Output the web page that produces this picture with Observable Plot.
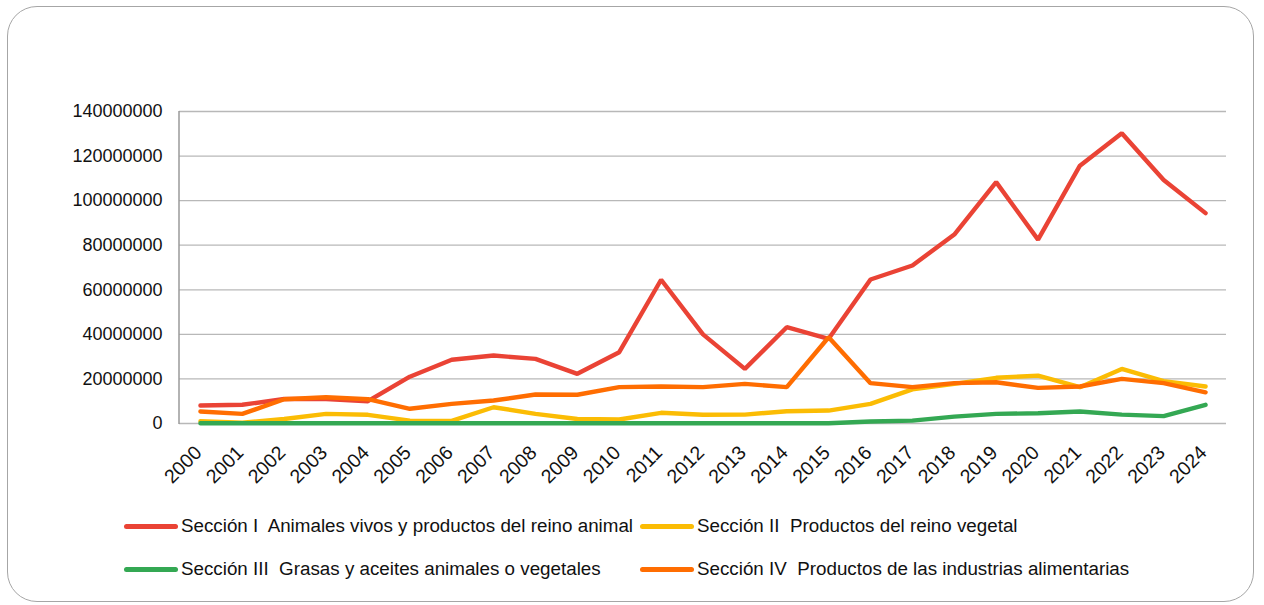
<!DOCTYPE html>
<html>
<head>
<meta charset="utf-8">
<script src="https://cdn.jsdelivr.net/npm/d3@7"></script>
<script src="https://cdn.jsdelivr.net/npm/@observablehq/plot@0.6"></script>
<style>
  html, body { margin: 0; padding: 0; background: #fff; }
  body { width: 1264px; height: 605px; overflow: hidden; position: relative; font-family: "Liberation Sans", Arial, sans-serif; }
  #box { position: absolute; left: 7px; top: 6px; width: 1247px; height: 596px; border: 1.5px solid #a6a6a6; border-radius: 30px; box-sizing: border-box; }
  #chart { position: absolute; left: 0; top: 0; }
  .leg { position: absolute; display: flex; align-items: center; font-size: 18.8px; color: #111; white-space: pre; }
  .sw { width: 54px; height: 5px; border-radius: 3px; margin-right: 3px; }
</style>
</head>
<body>
<div id="box"></div>
<div id="chart"></div>
<div id="legend"></div>
<script>
const years = ["2000","2001","2002","2003","2004","2005","2006","2007","2008","2009","2010","2011","2012","2013","2014","2015","2016","2017","2018","2019","2020","2021","2022","2023","2024"];
const seriesNames = [
  "Sección I  Animales vivos y productos del reino animal",
  "Sección II  Productos del reino vegetal",
  "Sección III  Grasas y aceites animales o vegetales",
  "Sección IV  Productos de las industrias alimentarias"
];
const seriesColors = ["#EA4335", "#FBBC04", "#34A853", "#FF6D01"];
const seccionI  = [8.1e6, 8.4e6, 11e6, 11e6, 10e6, 21e6, 28.6e6, 30.5e6, 29e6, 22.3e6, 32e6, 64.5e6, 40e6, 24.5e6, 43.2e6, 38e6, 64.6e6, 70.9e6, 84.8e6, 108.3e6, 82.5e6, 115.7e6, 130.2e6, 109.3e6, 94.4e6];
const seccionII = [1.0e6, 0.4e6, 2.0e6, 4.3e6, 3.9e6, 1.3e6, 1.2e6, 7.3e6, 4.3e6, 2.0e6, 1.8e6, 4.8e6, 3.9e6, 4.0e6, 5.5e6, 5.8e6, 8.8e6, 15.3e6, 17.8e6, 20.5e6, 21.5e6, 16.3e6, 24.5e6, 19.0e6, 16.6e6];
const seccionIII = [0.1e6, 0.1e6, 0.1e6, 0.1e6, 0.1e6, 0.1e6, 0.1e6, 0.1e6, 0.1e6, 0.1e6, 0.1e6, 0.1e6, 0.1e6, 0.1e6, 0.1e6, 0.1e6, 0.9e6, 1.3e6, 3.1e6, 4.3e6, 4.6e6, 5.4e6, 4.0e6, 3.3e6, 8.4e6];
const seccionIV = [5.4e6, 4.3e6, 10.9e6, 11.8e6, 10.9e6, 6.6e6, 8.8e6, 10.3e6, 13e6, 12.9e6, 16.3e6, 16.6e6, 16.3e6, 17.8e6, 16.3e6, 38.7e6, 18.1e6, 16.3e6, 18.1e6, 18.5e6, 16e6, 16.6e6, 20e6, 18.1e6, 14e6];
const yTicks = [0, 20000000, 40000000, 60000000, 80000000, 100000000, 120000000, 140000000];

const allSeries = [seccionI, seccionII, seccionIII, seccionIV];
const rows = [];
allSeries.forEach((vals, s) => vals.forEach((v, i) => rows.push({year: years[i], value: v, series: seriesNames[s]})));

const leftLine = (index, scales, values, dims) => {
  const l = document.createElementNS("http://www.w3.org/2000/svg", "line");
  l.setAttribute("x1", dims.marginLeft); l.setAttribute("x2", dims.marginLeft);
  l.setAttribute("y1", dims.marginTop); l.setAttribute("y2", dims.height - dims.marginBottom + 1);
  l.setAttribute("stroke", "#9a9a9a"); l.setAttribute("stroke-width", 1.5);
  return l;
};

const chart = Plot.plot({
  width: 1264,
  height: 500,
  marginLeft: 179,
  marginRight: 38,
  marginTop: 111,
  marginBottom: 77,
  style: {fontFamily: "'Liberation Sans', Arial, sans-serif", fontSize: "18px", color: "#111", background: "transparent"},
  x: {type: "point", domain: years, padding: 0.5, round: false},
  y: {domain: [0, 140000000]},
  color: {domain: seriesNames, range: seriesColors},
  marks: [
    Plot.gridY(yTicks, {stroke: "#b8b8b8", strokeOpacity: 1, strokeWidth: 1.3}),
    leftLine,
    Plot.axisY(yTicks, {tickSize: 0, tickPadding: 17, tickFormat: d => String(d), label: null, fontSize: 18}),
    Plot.axisX({tickRotate: -45, tickSize: 0, tickPadding: 6, label: null, fontSize: 19.5, dx: -2, dy: 20}),
    Plot.line(rows, {x: "year", y: "value", z: "series", stroke: "series", strokeWidth: 4.4, strokeLinejoin: "miter", strokeLinecap: "round"})
  ]
});
document.getElementById("chart").appendChild(chart);

const legendPos = [[124, 526], [640, 526], [124, 569], [640, 569]];
const leg = document.getElementById("legend");
seriesNames.forEach((name, i) => {
  const d = document.createElement("div");
  d.className = "leg";
  d.style.left = legendPos[i][0] + "px";
  d.style.top = (legendPos[i][1] - 11) + "px";
  const sw = document.createElement("div");
  sw.className = "sw";
  sw.style.background = seriesColors[i];
  const t = document.createElement("span");
  t.textContent = name;
  d.appendChild(sw); d.appendChild(t);
  leg.appendChild(d);
});
</script>
</body>
</html>
